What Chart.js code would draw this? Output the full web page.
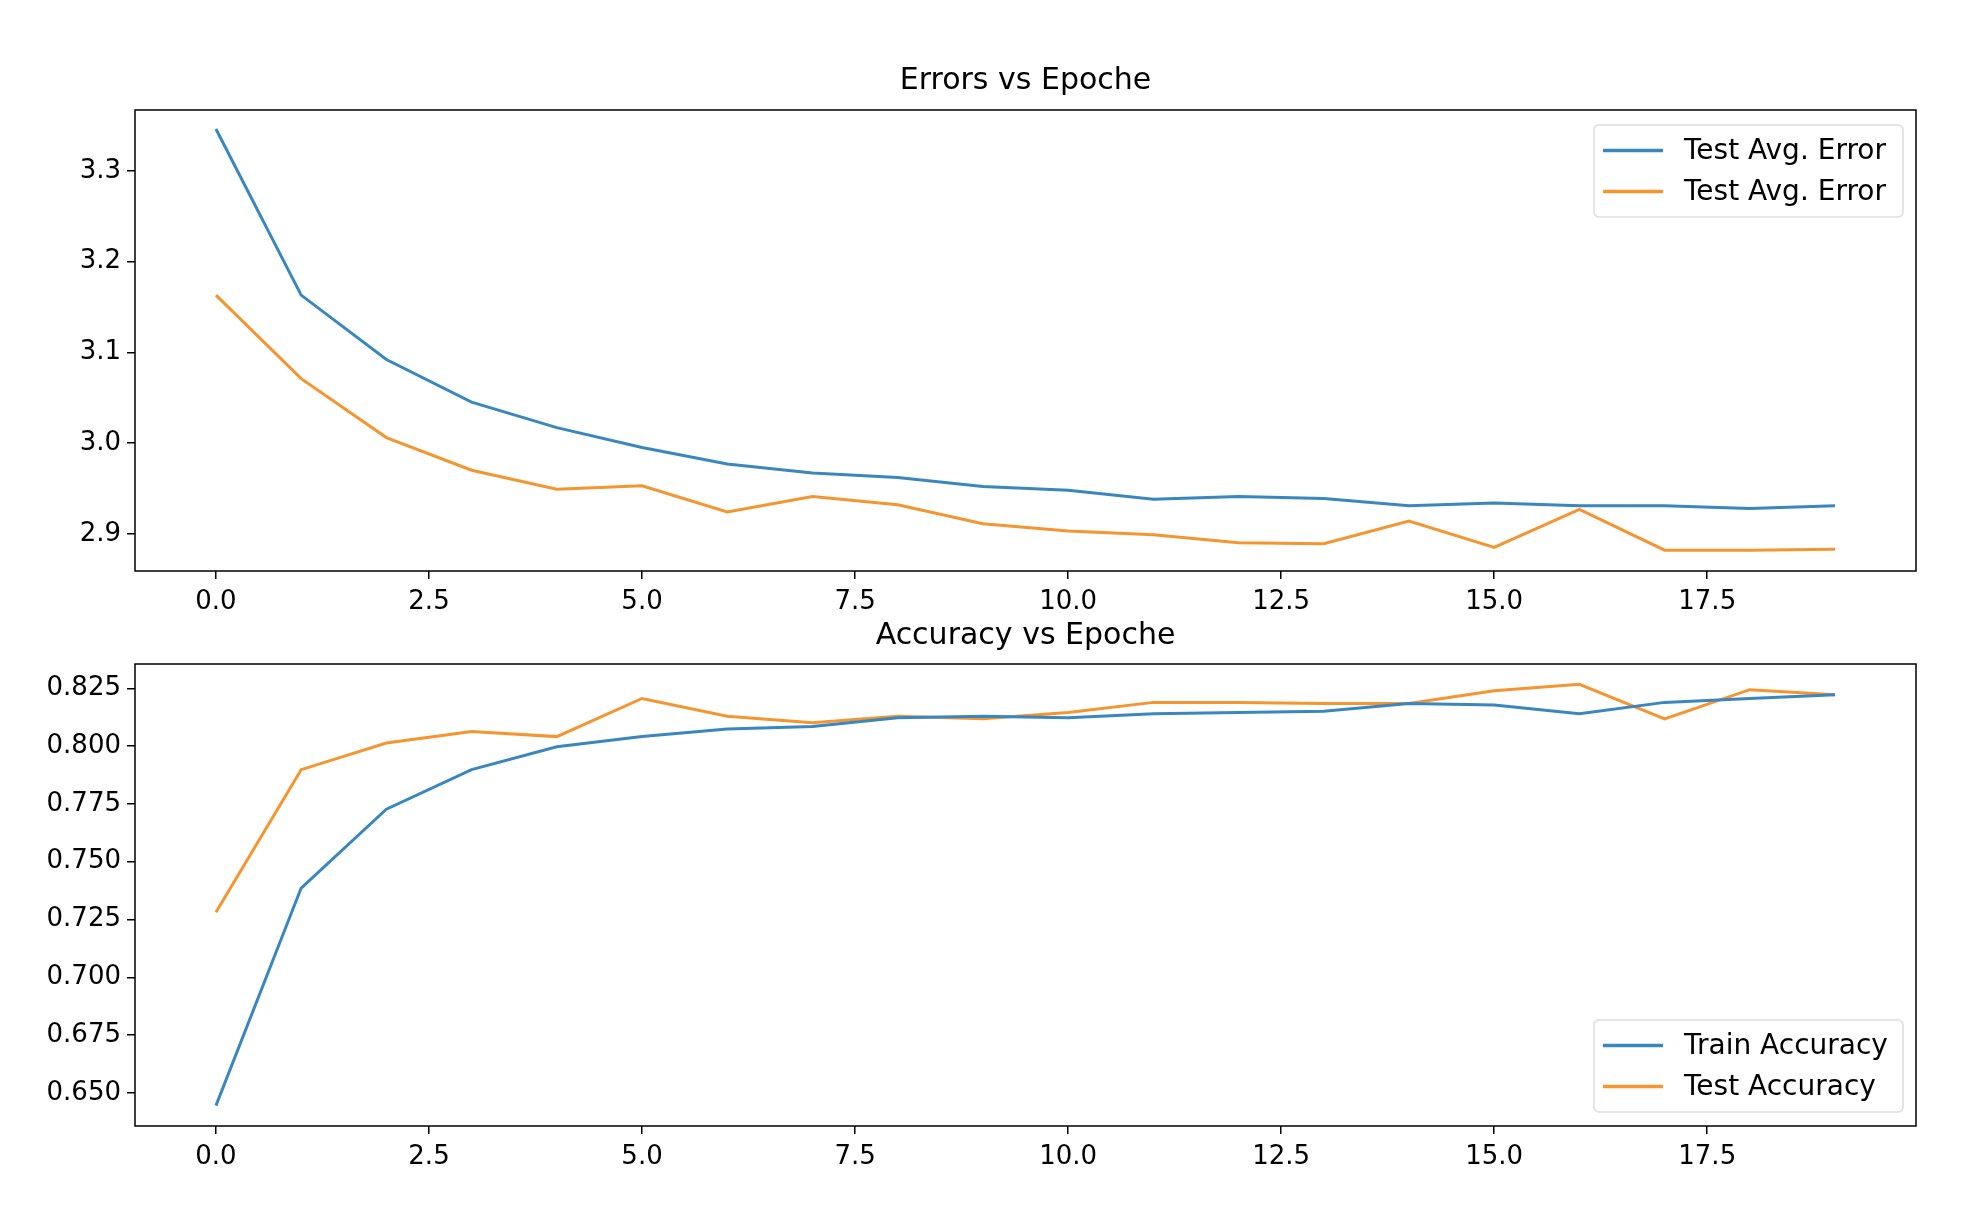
<!DOCTYPE html>
<html>
<head>
  <title>Errors / Accuracy vs Epoche</title>
  <script src="https://cdn.jsdelivr.net/npm/chart.js"></script>
  <style>
    body { margin: 0; padding: 0; background: #fff; }
    .box { position: absolute; left: 0; width: 1986px; }
    #c1 { top: 0; height: 620px; }
    #c2 { top: 620px; height: 604px; }
  </style>
</head>
<body>
  <div class="box" id="c1"><canvas id="chart1"></canvas></div>
  <div class="box" id="c2"><canvas id="chart2"></canvas></div>

  <script>
    const epochs = [0,1,2,3,4,5,6,7,8,9,10,11,12,13,14,15,16,17,18,19];

    const errBlue = [3.346,3.163,3.092,3.045,3.017,2.995,2.977,2.967,2.962,2.952,2.948,2.938,2.941,2.939,2.931,2.934,2.931,2.931,2.928,2.931];
    const errOrange = [3.163,3.071,3.006,2.970,2.949,2.953,2.924,2.941,2.932,2.911,2.903,2.899,2.890,2.889,2.914,2.885,2.927,2.882,2.882,2.883];

    const trainAcc = [0.6445,0.7386,0.7727,0.7898,0.7997,0.8041,0.8074,0.8085,0.8123,0.8129,0.8123,0.8140,0.8145,0.8151,0.8184,0.8178,0.8140,0.8189,0.8206,0.8222];
    const testAcc = [0.7281,0.7898,0.8013,0.8063,0.8041,0.8206,0.8129,0.8101,0.8129,0.8118,0.8145,0.8189,0.8189,0.8184,0.8184,0.8239,0.8267,0.8118,0.8244,0.8222];

    const BLUE = '#3a86bf';
    const ORANGE = '#f5952f';
    const FONT = 'DejaVu Sans';

    // frame, title and matplotlib-style legend
    const mplPlugin = {
      id: 'mpl',
      afterDraw(chart, args, opts) {
        const c = chart.ctx, a = chart.chartArea;
        c.save();
        c.strokeStyle = '#000';
        c.lineWidth = 1.5;
        c.strokeRect(a.left, a.top, a.right - a.left, a.bottom - a.top);

        c.fillStyle = '#000';
        c.font = '30px "' + FONT + '"';
        c.textAlign = 'center';
        c.textBaseline = 'middle';
        c.fillText(opts.title, (a.left + a.right) / 2, opts.titleY);

        const ds = chart.data.datasets;
        const w = 309, rowH = 41, h = ds.length * rowH + 10;
        const x0 = a.right - 13 - w;
        const y0 = opts.legendPos === 'top' ? a.top + 15 : a.bottom - 14 - h;
        c.fillStyle = 'rgba(255,255,255,0.8)';
        c.strokeStyle = '#dddddd';
        c.lineWidth = 1.5;
        c.beginPath();
        c.roundRect(x0, y0, w, h, 5);
        c.fill();
        c.stroke();
        c.font = '28px "' + FONT + '"';
        c.textAlign = 'left';
        ds.forEach((d, i) => {
          const y = y0 + 5 + rowH * (i + 0.5);
          c.strokeStyle = d.borderColor;
          c.lineWidth = 3.5;
          c.beginPath();
          c.moveTo(x0 + 9, y);
          c.lineTo(x0 + 69, y);
          c.stroke();
          c.fillStyle = '#000';
          c.fillText(d.label, x0 + 90, y + 1);
        });
        c.restore();
      }
    };

    function keepSteps(step, lo, hi) {
      return function (scale) {
        const t = [];
        for (let v = Math.ceil(lo / step) * step; v <= hi + 1e-9; v += step) t.push({ value: +v.toFixed(4) });
        scale.ticks = t;
      };
    }

    function makeChart(id, sets, cfg) {
      return new Chart(document.getElementById(id), {
        type: 'line',
        data: {
          labels: epochs,
          datasets: sets.map(s => ({
            label: s.label,
            data: s.data.map((v, i) => ({ x: epochs[i], y: v })),
            borderColor: s.color,
            borderWidth: 3,
            pointRadius: 0,
            tension: 0,
            fill: false
          }))
        },
        options: {
          responsive: true,
          maintainAspectRatio: false,
          animation: false,
          layout: { padding: { left: 0, right: 70, top: cfg.top, bottom: 0 } },
          plugins: {
            legend: { display: false },
            tooltip: { enabled: false },
            mpl: { title: cfg.title, titleY: cfg.titleY, legendPos: cfg.legendPos }
          },
          scales: {
            x: {
              type: 'linear',
              min: -0.95,
              max: 19.95,
              afterBuildTicks: keepSteps(2.5, 0, 17.5),
              afterFit: s => { s.height = cfg.xh; },
              grid: { drawOnChartArea: false, drawTicks: true, tickLength: 8, color: '#000', lineWidth: 1.5 },
              border: { display: false },
              ticks: { color: '#000', font: { family: FONT, size: 26 }, padding: 8, maxRotation: 0,
                       callback: v => v.toFixed(1) }
            },
            y: {
              min: cfg.ymin,
              max: cfg.ymax,
              afterBuildTicks: keepSteps(cfg.ystep, cfg.ylo, cfg.yhi),
              afterFit: s => { s.width = 135; },
              grid: { drawOnChartArea: false, drawTicks: true, tickLength: 8, color: '#000', lineWidth: 1.5 },
              border: { display: false },
              ticks: { color: '#000', font: { family: FONT, size: 26 }, padding: 6,
                       callback: v => v.toFixed(cfg.dec) }
            }
          }
        },
        plugins: [mplPlugin]
      });
    }

    makeChart('chart1', [
      { label: 'Test Avg. Error', data: errBlue, color: BLUE },
      { label: 'Test Avg. Error', data: errOrange, color: ORANGE }
    ], { title: 'Errors vs Epoche', titleY: 81, legendPos: 'top', top: 110, xh: 49,
         ymin: 2.859, ymax: 3.367, ystep: 0.1, ylo: 2.9, yhi: 3.3, dec: 1 });

    makeChart('chart2', [
      { label: 'Train Accuracy', data: trainAcc, color: BLUE },
      { label: 'Test Accuracy', data: testAcc, color: ORANGE }
    ], { title: 'Accuracy vs Epoche', titleY: 16, legendPos: 'bottom', top: 44, xh: 98,
         ymin: 0.6357, ymax: 0.8355, ystep: 0.025, ylo: 0.65, yhi: 0.825, dec: 3 });
  </script>
</body>
</html>
